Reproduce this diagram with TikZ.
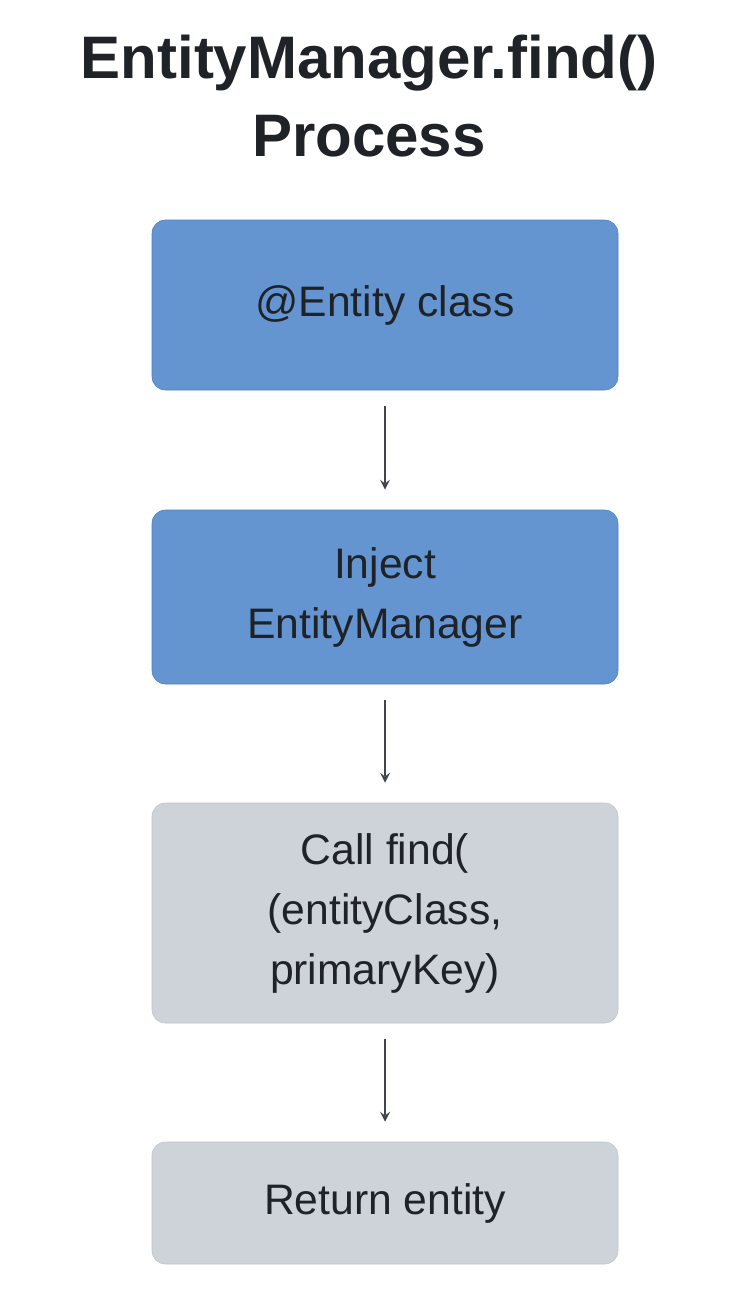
\documentclass[tikz,border=0pt]{standalone}
\usepackage{fontspec}
\setmainfont{Liberation Sans}
\usetikzlibrary{positioning}
\definecolor{stepblue}{HTML}{6495D0}
\definecolor{stepblueline}{HTML}{4F7FC0}
\definecolor{stepgrey}{HTML}{CDD3D8}
\definecolor{stepgreyline}{HTML}{BCC3C9}
\definecolor{inkdark}{HTML}{1F2328}
\tikzset{
  stage/.style={rounded corners=10pt, minimum width=349.5pt, align=center,
    text=inkdark, font=\fontsize{32}{45}\selectfont},
  blue stage/.style={stage, fill=stepblue, draw=stepblueline},
  grey stage/.style={stage, fill=stepgrey, draw=stepgreyline},
  flow/.style={->, >=stealth, line width=2.2pt, draw=inkdark!85}
}
\begin{document}
\begin{tikzpicture}[x=0.75pt, y=-0.75pt]
  \useasboundingbox (0,0) rectangle (739,1297);
  \node[text=inkdark, font=\bfseries\fontsize{45}{58}\selectfont, align=center]
    (title) at (369,96) {EntityManager.find()\\Process};
  \node[blue stage, minimum height=127.5pt] (entity) at (385,305) {@Entity class};
  \node[blue stage, minimum height=130.5pt] (inject) at (385,597) {Inject\\EntityManager};
  \node[grey stage, minimum height=165pt] (call) at (385,913) {Call find(\\(entityClass,\\primaryKey)};
  \node[grey stage, minimum height=91.5pt] (ret) at (385,1203) {Return entity};
  \draw[flow] ([yshift=-12pt]entity.south) -- ([yshift=15pt]inject.north);
  \draw[flow] ([yshift=-12pt]inject.south) -- ([yshift=15pt]call.north);
  \draw[flow] ([yshift=-12pt]call.south) -- ([yshift=15pt]ret.north);
\end{tikzpicture}
\end{document}
